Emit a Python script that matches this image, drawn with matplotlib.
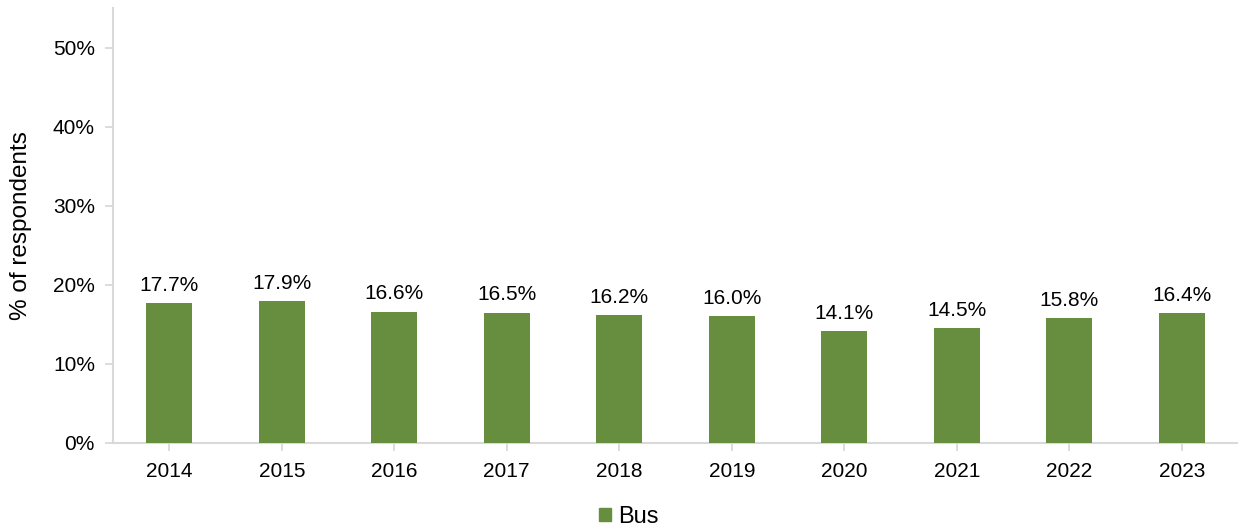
import matplotlib
matplotlib.use("Agg")
import matplotlib.pyplot as plt
import matplotlib.patches as mpatches

years = ["2014", "2015", "2016", "2017", "2018", "2019", "2020", "2021", "2022", "2023"]
bus_pct = [17.7, 17.9, 16.6, 16.5, 16.2, 16.0, 14.1, 14.5, 15.8, 16.4]
y_ticks = [0, 10, 20, 30, 40, 50]

BAR_COLOR = "#678D3E"
AXIS_GREY = "#D9D9D9"

plt.rcParams["font.family"] = ["Liberation Sans", "DejaVu Sans"]

fig = plt.figure(figsize=(12.38, 5.28), dpi=100)
ax = fig.add_axes([113 / 1238, 1 - 443 / 528, 1 - 113 / 1238, 435 / 528])

x = list(range(len(years)))
ax.bar(x, bus_pct, width=0.41, color=BAR_COLOR, zorder=3)

for xi, v in zip(x, bus_pct):
    ax.annotate(f"{v:.1f}%", (xi, v), xytext=(0, 6), textcoords="offset points",
                ha="center", va="bottom", fontsize=15, color="#000000")

ax.set_xlim(-0.5, len(years) - 0.5)
ax.set_ylim(0, 55)
ax.set_xticks(x)
ax.set_xticklabels(years)
ax.set_yticks(y_ticks)
ax.set_yticklabels([f"{t}%" for t in y_ticks])
ax.tick_params(axis="both", labelsize=15, colors=AXIS_GREY, labelcolor="#000000",
               length=6, width=1.3)
ax.tick_params(axis="x", pad=8)
ax.tick_params(axis="y", pad=7)

for s in ["top", "right"]:
    ax.spines[s].set_visible(False)
for s in ["left", "bottom"]:
    ax.spines[s].set_color(AXIS_GREY)
    ax.spines[s].set_linewidth(1.5)

ax.set_ylabel("% of respondents", fontsize=17.5)
ax.yaxis.set_label_coords(-0.072, 0.5)

handle = mpatches.Patch(color=BAR_COLOR, label="Bus")
fig.legend(handles=[handle], loc="center", bbox_to_anchor=(0.508, 1 - 517 / 528),
           frameon=False, fontsize=17, handlelength=0.5, handleheight=0.5,
           handletextpad=0.3)

fig.savefig("out.png", dpi=100)
